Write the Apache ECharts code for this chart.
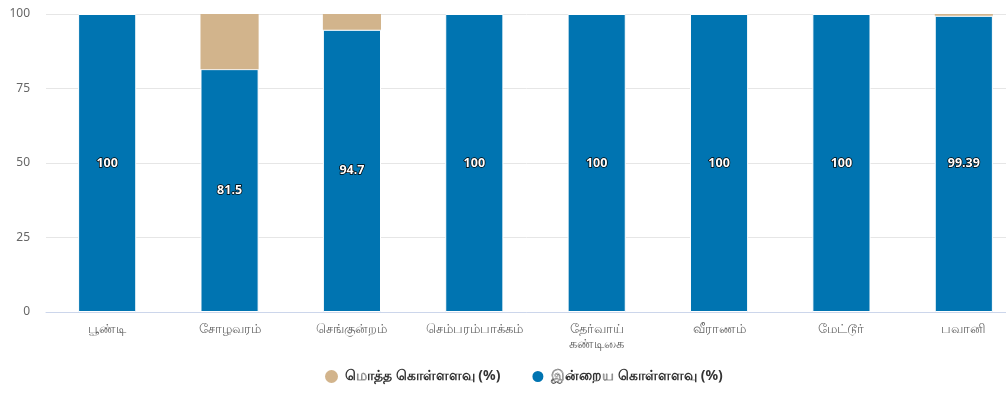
<!DOCTYPE html>
<html>
<head>
<meta charset="utf-8">
<script src="https://cdn.jsdelivr.net/npm/echarts@6/dist/echarts.min.js"></script>
<style>
  html, body { margin: 0; padding: 0; background: #fff; }
  #chart { width: 1006px; height: 397px; }
</style>
</head>
<body>
<div id="chart"></div>
<script>
const categories = ['பூண்டி', 'சோழவரம்', 'செங்குன்றம்', 'செம்பரம்பாக்கம்', 'தேர்வாய்\nகண்டிகை', 'வீராணம்', 'மேட்டூர்', 'பவானி'];
// இன்றைய கொள்ளளவு (%) - current level
const currentLevel = [100, 81.5, 94.7, 100, 100, 100, 100, 99.39];
// மொத்த கொள்ளளவு (%) - remaining part up to the total
const totalRest = [0, 18.5, 5.3, 0, 0, 0, 0, 0.61];
const yTicks = { min: 0, max: 100, interval: 25 };

const chart = echarts.init(document.getElementById('chart'));
const font = "'Noto Sans', 'DejaVu Sans', sans-serif";

chart.setOption({
  animation: false,
  textStyle: { fontFamily: font },
  grid: { left: 46, top: 14, width: 979, bottom: 85, outerBoundsMode: 'none' },
  legend: {
    bottom: 8,
    left: 320,
    icon: 'circle',
    itemWidth: 13,
    itemHeight: 13,
    itemGap: 30,
    textStyle: { color: '#333', fontSize: 14, fontWeight: 'bold', fontFamily: font, padding: [0, 0, 0, 2] },
    data: ['மொத்த கொள்ளளவு (%)', 'இன்றைய கொள்ளளவு (%)']
  },
  xAxis: {
    type: 'category',
    data: categories,
    axisLine: { lineStyle: { color: '#ccd6eb' } },
    axisTick: { show: false },
    axisLabel: { color: '#666', fontSize: 12.5, margin: 10, interval: 0, lineHeight: 15 }
  },
  yAxis: {
    type: 'value',
    min: yTicks.min,
    max: yTicks.max,
    interval: yTicks.interval,
    axisLabel: { color: '#666', fontSize: 12, margin: 16 },
    splitLine: { lineStyle: { color: '#e6e6e6' } }
  },
  series: [
    {
      name: 'இன்றைய கொள்ளளவு (%)',
      type: 'bar',
      stack: 'level',
      barWidth: '47.5%',
      data: currentLevel,
      itemStyle: { color: '#0074b1', borderColor: '#fff', borderWidth: 1 },
      label: {
        show: true,
        position: 'inside',
        color: '#fff',
        fontWeight: 'bold',
        fontSize: 12.5,
        textBorderColor: '#000',
        textBorderWidth: 1.5
      }
    },
    {
      name: 'மொத்த கொள்ளளவு (%)',
      type: 'bar',
      stack: 'level',
      data: totalRest,
      itemStyle: { color: '#d2b48c' }
    }
  ]
});
</script>
</body>
</html>
